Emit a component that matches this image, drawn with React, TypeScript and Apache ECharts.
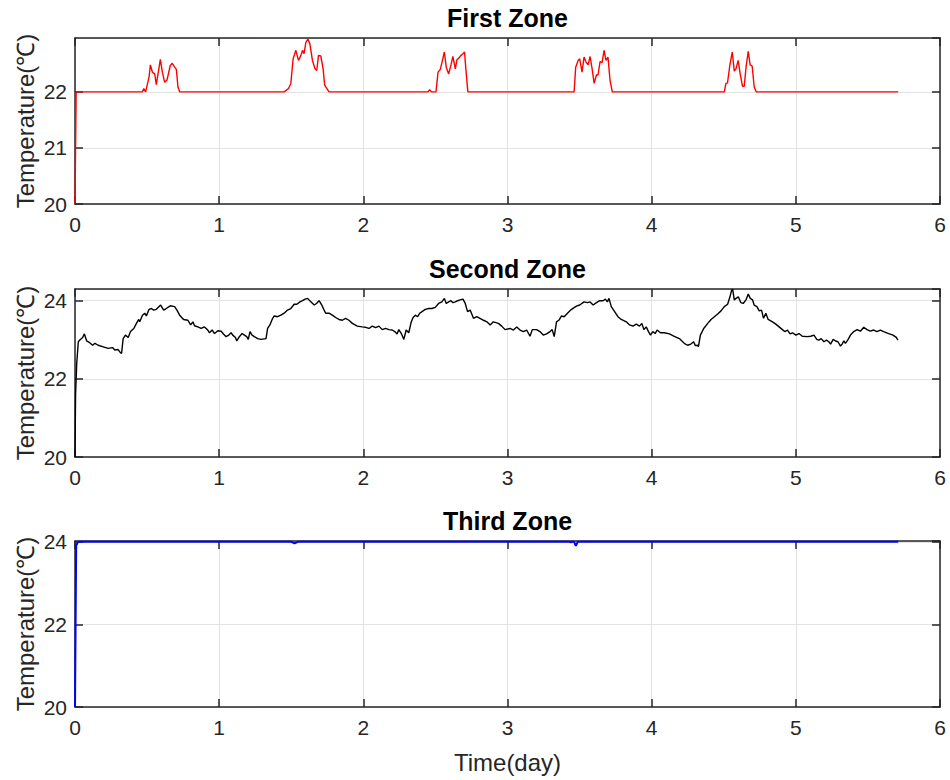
import React, { useEffect, useRef } from "react";
import * as echarts from "echarts";

// ---------- data ----------
const xTicks = [0, 1, 2, 3, 4, 5, 6];
const titles = ["First Zone", "Second Zone", "Third Zone"];
const yLabel = "Temperature(℃)";
const xLabel = "Time(day)";

const zone1: [number, number][] = [
  [0, 20], [0.008, 22],
  [0.468, 22], [0.477, 22.06], [0.49, 22], [0.514, 22.27], [0.523, 22.48], [0.537, 22.35], [0.553, 22.32],
  [0.564, 22.13], [0.576, 22.32], [0.592, 22.58], [0.606, 22.35], [0.622, 22.17], [0.638, 22.21],
  [0.661, 22.47], [0.675, 22.51], [0.691, 22.44], [0.703, 22.4], [0.714, 22.09], [0.726, 22],
  [1.451, 22], [1.481, 22.06], [1.497, 22.15], [1.513, 22.59], [1.532, 22.74], [1.55, 22.56], [1.567, 22.65],
  [1.578, 22.74], [1.589, 22.68], [1.601, 22.88], [1.615, 22.94], [1.629, 22.86], [1.647, 22.56],
  [1.665, 22.41], [1.677, 22.38], [1.689, 22.65], [1.705, 22.64], [1.721, 22.41], [1.732, 22.12], [1.762, 22],
  [2.449, 22], [2.46, 22.04], [2.472, 22], [2.504, 22], [2.518, 22.35], [2.534, 22.4], [2.546, 22.53],
  [2.562, 22.71], [2.575, 22.44], [2.592, 22.32], [2.608, 22.48], [2.621, 22.63], [2.638, 22.41],
  [2.649, 22.57], [2.661, 22.6], [2.677, 22.65], [2.691, 22.68], [2.702, 22.71], [2.711, 22.41], [2.725, 22],
  [3.462, 22], [3.473, 22.44], [3.49, 22.56], [3.501, 22.59], [3.517, 22.35], [3.531, 22.62], [3.545, 22.53],
  [3.559, 22.48], [3.573, 22.63], [3.587, 22.41], [3.601, 22.15], [3.617, 22.3], [3.628, 22.3],
  [3.642, 22.54], [3.656, 22.52], [3.67, 22.74], [3.683, 22.56], [3.697, 22.62], [3.711, 22.21], [3.727, 22],
  [4.504, 22], [4.515, 22.15], [4.526, 22.16], [4.542, 22.47], [4.559, 22.71], [4.573, 22.37], [4.586, 22.42],
  [4.6, 22.56], [4.614, 22.32], [4.63, 22.1], [4.642, 22.1], [4.656, 22.47], [4.67, 22.72], [4.683, 22.48],
  [4.697, 22.46], [4.711, 22.09], [4.725, 22],
  [5.71, 22],
];

const zone2: [number, number][] = [
  [0, 20], [0.004, 21.6], [0.012, 22.4], [0.023, 22.95], [0.035, 23.0], [0.053, 23.06], [0.065, 23.15],
  [0.081, 22.97], [0.104, 22.92], [0.122, 22.86], [0.138, 22.91], [0.161, 22.86], [0.196, 22.82],
  [0.23, 22.78], [0.26, 22.8], [0.276, 22.74], [0.299, 22.75], [0.311, 22.69], [0.323, 22.65],
  [0.334, 23.03], [0.35, 23.12], [0.369, 23.06], [0.385, 23.21], [0.408, 23.29], [0.426, 23.42],
  [0.442, 23.52], [0.449, 23.46], [0.468, 23.63], [0.484, 23.68], [0.495, 23.61], [0.514, 23.78],
  [0.53, 23.8], [0.546, 23.76], [0.564, 23.78], [0.594, 23.89], [0.615, 23.76], [0.633, 23.8],
  [0.661, 23.87], [0.691, 23.85], [0.707, 23.76], [0.726, 23.63], [0.753, 23.52], [0.783, 23.5],
  [0.802, 23.38], [0.818, 23.46], [0.829, 23.36], [0.852, 23.33], [0.875, 23.29], [0.898, 23.33],
  [0.921, 23.25], [0.933, 23.18], [0.951, 23.25], [0.968, 23.16], [0.991, 23.23], [1.014, 23.22],
  [1.03, 23.15], [1.048, 23.08], [1.067, 23.12], [1.083, 23.18], [1.094, 23.12], [1.113, 23.06],
  [1.122, 22.97], [1.14, 23.08], [1.159, 23.16], [1.175, 23.12], [1.191, 23.08], [1.202, 23.01],
  [1.214, 23.21], [1.228, 23.12], [1.244, 23.08], [1.267, 23.03], [1.29, 23.01], [1.325, 23.03],
  [1.336, 23.29], [1.352, 23.38], [1.371, 23.55], [1.382, 23.61], [1.405, 23.59], [1.428, 23.63],
  [1.451, 23.68], [1.474, 23.76], [1.497, 23.8], [1.52, 23.91], [1.539, 23.91], [1.56, 23.97],
  [1.578, 24.0], [1.596, 24.04], [1.613, 24.06], [1.629, 24.0], [1.643, 23.95], [1.659, 23.89],
  [1.675, 23.93], [1.693, 24.0], [1.712, 23.89], [1.728, 23.76], [1.739, 23.68], [1.762, 23.68],
  [1.785, 23.63], [1.808, 23.57], [1.831, 23.52], [1.854, 23.5], [1.877, 23.55], [1.9, 23.5],
  [1.924, 23.42], [1.958, 23.35], [1.993, 23.33], [2.016, 23.32], [2.039, 23.29], [2.062, 23.35],
  [2.085, 23.31], [2.108, 23.35], [2.131, 23.26], [2.154, 23.29], [2.177, 23.26], [2.2, 23.25],
  [2.218, 23.21], [2.234, 23.15], [2.246, 23.26], [2.265, 23.15], [2.281, 23.01], [2.297, 23.25],
  [2.315, 23.18], [2.331, 23.44], [2.345, 23.57], [2.361, 23.63], [2.377, 23.59], [2.391, 23.68],
  [2.407, 23.72], [2.43, 23.78], [2.453, 23.8], [2.476, 23.8], [2.499, 23.83], [2.522, 23.93],
  [2.545, 23.97], [2.562, 24.06], [2.575, 23.93], [2.592, 23.97], [2.608, 24.0], [2.621, 23.95],
  [2.638, 23.97], [2.654, 24.0], [2.672, 24.02], [2.691, 24.04], [2.707, 23.93], [2.723, 23.72],
  [2.741, 23.76], [2.764, 23.55], [2.787, 23.59], [2.834, 23.5], [2.857, 23.46], [2.88, 23.38],
  [2.902, 23.46], [2.937, 23.42], [2.96, 23.35], [2.983, 23.26], [3.018, 23.29], [3.041, 23.25],
  [3.064, 23.33], [3.087, 23.25], [3.11, 23.21], [3.133, 23.25], [3.156, 23.09], [3.172, 23.26],
  [3.202, 23.26], [3.225, 23.21], [3.248, 23.12], [3.271, 23.15], [3.295, 23.21], [3.31, 23.26],
  [3.324, 23.08], [3.34, 23.46], [3.356, 23.5], [3.375, 23.61], [3.393, 23.59], [3.416, 23.68],
  [3.444, 23.78], [3.478, 23.86], [3.501, 23.89], [3.531, 23.97], [3.554, 23.95], [3.573, 23.97],
  [3.594, 23.89], [3.617, 23.95], [3.64, 24.0], [3.663, 24.0], [3.679, 24.04], [3.693, 23.97],
  [3.704, 24.06], [3.72, 23.85], [3.743, 23.72], [3.766, 23.59], [3.789, 23.52], [3.824, 23.46],
  [3.847, 23.38], [3.87, 23.35], [3.893, 23.4], [3.916, 23.35], [3.932, 23.42], [3.946, 23.26],
  [3.962, 23.33], [3.978, 23.21], [3.992, 23.12], [4.008, 23.21], [4.024, 23.16], [4.038, 23.25],
  [4.061, 23.18], [4.088, 23.18], [4.123, 23.15], [4.157, 23.09], [4.192, 23.03], [4.226, 22.91],
  [4.249, 22.86], [4.272, 22.89], [4.291, 22.95], [4.303, 22.85], [4.319, 22.86], [4.324, 22.82],
  [4.338, 23.12], [4.361, 23.29], [4.389, 23.42], [4.412, 23.52], [4.435, 23.59], [4.458, 23.66],
  [4.481, 23.74], [4.504, 23.85], [4.527, 23.91], [4.543, 24.1], [4.555, 24.27], [4.562, 24.29],
  [4.573, 24.02], [4.585, 24.06], [4.601, 24.1], [4.619, 23.95], [4.635, 23.93], [4.654, 24.02],
  [4.67, 24.17], [4.684, 24.06], [4.7, 24.02], [4.711, 23.89], [4.73, 23.85], [4.746, 23.74],
  [4.762, 23.76], [4.776, 23.55], [4.792, 23.68], [4.808, 23.52], [4.838, 23.46], [4.861, 23.4],
  [4.884, 23.33], [4.907, 23.26], [4.923, 23.21], [4.942, 23.25], [4.96, 23.15], [4.977, 23.18],
  [5.0, 23.12], [5.022, 23.16], [5.045, 23.09], [5.08, 23.08], [5.103, 23.09], [5.126, 23.12],
  [5.145, 23.01], [5.16, 22.99], [5.176, 23.03], [5.195, 22.95], [5.213, 22.99], [5.229, 22.95],
  [5.241, 22.89], [5.259, 23.01], [5.275, 22.97], [5.292, 22.95], [5.31, 22.84], [5.321, 22.89],
  [5.333, 22.97], [5.344, 22.91], [5.36, 22.99], [5.379, 23.12], [5.402, 23.21], [5.425, 23.26],
  [5.448, 23.22], [5.471, 23.32], [5.494, 23.26], [5.517, 23.22], [5.54, 23.25], [5.563, 23.21],
  [5.586, 23.25], [5.609, 23.21], [5.644, 23.16], [5.674, 23.12], [5.697, 23.06], [5.708, 22.99],
];

const zone3: [number, number][] = [
  [0, 20], [0.008, 23.9], [0.02, 24], [1.5, 24], [1.523, 23.96], [1.545, 24],
  [3.43, 24], [3.44, 23.99], [3.45, 24], [3.462, 24], [3.474, 23.9], [3.487, 24], [5.71, 24],
];

const yRanges = [
  { min: 20, max: 22.96, interval: 1 },
  { min: 20, max: 24.3, interval: 2 },
  { min: 20, max: 24.02, interval: 2 },
];
const seriesData = [zone1, zone2, zone3];
const seriesColors = ["#ff0000", "#000000", "#0000ff"];

// ---------- layout ----------
const LEFT = 75;
const RIGHT_EDGE = 940;
const grids = [
  { top: 38, height: 166 },
  { top: 289, height: 168 },
  { top: 541, height: 166 },
];
const FONT = "'Liberation Sans', Arial, Helvetica, sans-serif";
const AX = "#262626";
const GRIDC = "#e3e3e3";

export default function App() {
  const ref = useRef<HTMLDivElement | null>(null);

  useEffect(() => {
    if (!ref.current) return;
    const chart = echarts.init(ref.current, undefined, { renderer: "svg" });

    const gridOpts = grids.map((g) => ({
      left: LEFT,
      right: 950 - RIGHT_EDGE,
      top: g.top,
      height: g.height,
      containLabel: false,
    }));

    const xAxes: any[] = [];
    const yAxes: any[] = [];
    const series: any[] = [];
    grids.forEach((_, i) => {
      const common = {
        gridIndex: i,
        type: "value",
        min: xTicks[0],
        max: xTicks[xTicks.length - 1],
        interval: 1,
        axisLine: { show: true, onZero: false, lineStyle: { color: AX, width: 1.5 } },
        axisTick: { show: true, inside: true, length: 8, lineStyle: { color: AX, width: 1.5 } },
      };
      xAxes.push({
        ...common,
        position: "bottom",
        axisLabel: { show: true, color: AX, fontSize: 21, fontFamily: FONT, margin: 10 },
        splitLine: { show: true, lineStyle: { color: GRIDC, width: 1 } },
      });
      xAxes.push({
        ...common,
        position: "top",
        axisLabel: { show: false },
        splitLine: { show: false },
      });
      const yr = yRanges[i];
      const ycommon = {
        gridIndex: i,
        type: "value",
        min: yr.min,
        max: yr.max,
        interval: yr.interval,
        axisLine: { show: true, onZero: false, lineStyle: { color: AX, width: 1.5 } },
        axisTick: { show: true, inside: true, length: 8, lineStyle: { color: AX, width: 1.5 } },
      };
      yAxes.push({
        ...ycommon,
        position: "left",
        axisLabel: {
          show: true,
          color: AX,
          fontSize: 21,
          fontFamily: FONT,
          margin: 8,
          showMaxLabel: false,
          formatter: (v: number) =>
            Math.abs((v - yr.min) / yr.interval - Math.round((v - yr.min) / yr.interval)) < 1e-6
              ? String(v)
              : "",
        },
        splitLine: { show: true, lineStyle: { color: GRIDC, width: 1 } },
      });
      yAxes.push({
        ...ycommon,
        position: "right",
        axisLabel: { show: false },
        splitLine: { show: false },
      });
      series.push({
        type: "line",
        xAxisIndex: i * 2,
        yAxisIndex: i * 2,
        data: seriesData[i],
        showSymbol: false,
        symbol: "none",
        clip: true,
        lineStyle: { color: seriesColors[i], width: i === 2 ? 2 : 1.4 },
        z: 3,
      });
    });

    const centerX = (LEFT + RIGHT_EDGE) / 2;
    const graphics: any[] = [];
    grids.forEach((g, i) => {
      graphics.push({
        type: "text",
        x: centerX,
        y: g.top - 20,
        style: {
          text: titles[i],
          font: `bold 25px ${FONT}`,
          fill: "#000000",
          textAlign: "center",
          textVerticalAlign: "middle",
        },
      });
      graphics.push({
        type: "text",
        x: 25,
        y: g.top + g.height / 2,
        rotation: Math.PI / 2,
        style: {
          text: yLabel,
          font: `24px ${FONT}`,
          fill: AX,
          textAlign: "center",
          textVerticalAlign: "middle",
        },
      });
    });
    graphics.push({
      type: "text",
      x: centerX,
      y: 762,
      style: {
        text: xLabel,
        font: `24px ${FONT}`,
        fill: AX,
        textAlign: "center",
        textVerticalAlign: "middle",
      },
    });

    chart.setOption({
      animation: false,
      backgroundColor: "#ffffff",
      grid: gridOpts,
      xAxis: xAxes,
      yAxis: yAxes,
      series,
      graphic: { elements: graphics },
    });

    return () => chart.dispose();
  }, []);

  return (
    <div
      ref={ref}
      style={{ position: "absolute", left: 0, top: 0, width: 950, height: 780, background: "#fff" }}
    />
  );
}
